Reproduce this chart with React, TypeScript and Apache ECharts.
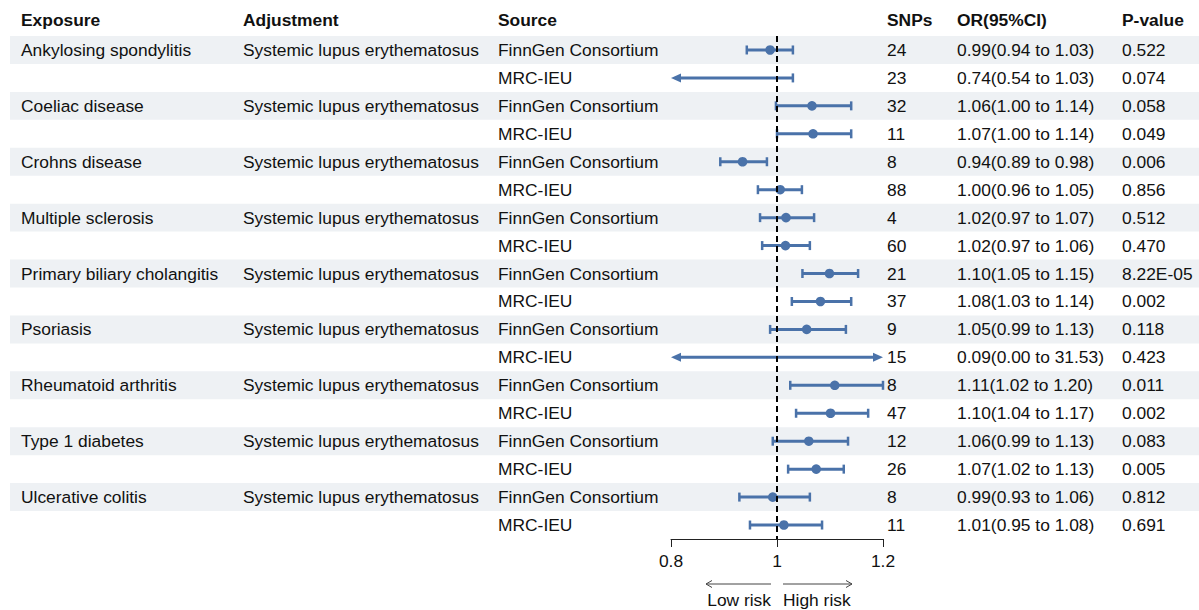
import React, { useEffect, useRef } from "react";
import * as echarts from "echarts";

const headers = ["Exposure", "Adjustment", "Source", "SNPs", "OR(95%CI)", "P-value"];
const exposures = [
  "Ankylosing spondylitis", "",
  "Coeliac disease", "",
  "Crohns disease", "",
  "Multiple sclerosis", "",
  "Primary biliary cholangitis", "",
  "Psoriasis", "",
  "Rheumatoid arthritis", "",
  "Type 1 diabetes", "",
  "Ulcerative colitis", "",
];
const adjustments = exposures.map((e) => (e ? "Systemic lupus erythematosus" : ""));
const sources = exposures.map((e) => (e ? "FinnGen Consortium" : "MRC-IEU"));
const snps = ["24", "23", "32", "11", "8", "88", "4", "60", "21", "37", "9", "15", "8", "47", "12", "26", "8", "11"];
const orTexts = [
  "0.99(0.94 to 1.03)", "0.74(0.54 to 1.03)",
  "1.06(1.00 to 1.14)", "1.07(1.00 to 1.14)",
  "0.94(0.89 to 0.98)", "1.00(0.96 to 1.05)",
  "1.02(0.97 to 1.07)", "1.02(0.97 to 1.06)",
  "1.10(1.05 to 1.15)", "1.08(1.03 to 1.14)",
  "1.05(0.99 to 1.13)", "0.09(0.00 to 31.53)",
  "1.11(1.02 to 1.20)", "1.10(1.04 to 1.17)",
  "1.06(0.99 to 1.13)", "1.07(1.02 to 1.13)",
  "0.99(0.93 to 1.06)", "1.01(0.95 to 1.08)",
];
const pTexts = [
  "0.522", "0.074", "0.058", "0.049", "0.006", "0.856", "0.512", "0.470", "8.22E-05",
  "0.002", "0.118", "0.423", "0.011", "0.002", "0.083", "0.005", "0.812", "0.691",
];
const orValues = [0.987, 0.74, 1.066, 1.068, 0.935, 1.006, 1.017, 1.016, 1.099, 1.082, 1.056, 0.09, 1.109, 1.101, 1.06, 1.074, 0.992, 1.013];
const lowerValues = [0.943, 0.54, 0.998, 1.0, 0.893, 0.964, 0.968, 0.972, 1.048, 1.028, 0.987, 0.0, 1.025, 1.036, 0.992, 1.021, 0.929, 0.949];
const upperValues = [1.03, 1.03, 1.14, 1.14, 0.981, 1.047, 1.07, 1.062, 1.153, 1.14, 1.13, 31.53, 1.2, 1.172, 1.134, 1.126, 1.062, 1.085];
const xTicks = [0.8, 1.0, 1.2];
const rowIds = exposures.map((_, i) => String(i));

const FONT = '"Liberation Sans", Arial, Helvetica, sans-serif';
const FS = 17.4;
const BLUE = "#4A72A9";
const BAND = "#EEF1F4";
const TEXT = "#111111";
const COLX = [21, 243, 498, 887, 957, 1122];

export default function App() {
  const ref = useRef<HTMLDivElement>(null);
  useEffect(() => {
    if (!ref.current) return;
    const chart = echarts.init(ref.current, null, { renderer: "svg" });
    const xMin = xTicks[0];
    const xMax = xTicks[xTicks.length - 1];

    const tableData = rowIds.map((_, i) => [xMin, i]);
    const forestData = rowIds.map((_, i) => [orValues[i], i, lowerValues[i], upperValues[i]]);

    const option: any = {
      animation: false,
      grid: { left: 671, right: 316, top: 36, bottom: 71, containLabel: false },
      xAxis: {
        type: "value",
        min: xMin,
        max: xMax,
        interval: 0.2,
        axisLine: { show: true, lineStyle: { color: "#222", width: 1 } },
        axisTick: { show: true, length: 8, lineStyle: { color: "#222", width: 1 } },
        axisLabel: {
          fontSize: FS,
          fontFamily: FONT,
          color: TEXT,
          margin: 13,
          formatter: (v: number) => (Math.abs(v - 1) < 1e-9 ? "1" : String(Math.round(v * 10) / 10)),
        },
        splitLine: { show: false },
      },
      yAxis: {
        type: "category",
        data: rowIds,
        inverse: true,
        show: false,
      },
      graphic: [
        ...headers.map((h, k) => ({
          type: "text",
          x: COLX[k],
          y: 20,
          style: { text: h, font: `bold ${FS}px ${FONT}`, fill: TEXT, verticalAlign: "middle", align: "left" },
        })),
        {
          type: "line",
          shape: { x1: 706, y1: 584, x2: 771, y2: 584 },
          style: { stroke: "#444", lineWidth: 1 },
        },
        {
          type: "polyline",
          shape: { points: [[712, 580.5], [706, 584], [712, 587.5]] },
          style: { stroke: "#444", lineWidth: 1, fill: null },
        },
        {
          type: "line",
          shape: { x1: 783, y1: 584, x2: 852, y2: 584 },
          style: { stroke: "#444", lineWidth: 1 },
        },
        {
          type: "polyline",
          shape: { points: [[846, 580.5], [852, 584], [846, 587.5]] },
          style: { stroke: "#444", lineWidth: 1, fill: null },
        },
        {
          type: "text",
          x: 771,
          y: 600,
          style: { text: "Low risk", font: `${FS}px ${FONT}`, fill: TEXT, verticalAlign: "middle", align: "right" },
        },
        {
          type: "text",
          x: 783,
          y: 600,
          style: { text: "High risk", font: `${FS}px ${FONT}`, fill: TEXT, verticalAlign: "middle", align: "left" },
        },
      ],
      series: [
        {
          type: "custom",
          name: "table",
          z: 1,
          silent: true,
          data: tableData,
          encode: { x: 0, y: 1 },
          renderItem: (params: any, api: any) => {
            const i = api.value(1) as number;
            const c = api.coord([xMin, i]);
            const h = api.size([0, 1])[1];
            const y = c[1];
            const children: any[] = [];
            if (i % 2 === 0) {
              children.push({
                type: "rect",
                shape: { x: 10, y: y - h / 2, width: 1189, height: h },
                style: { fill: BAND },
              });
            }
            const cols = [exposures[i], adjustments[i], sources[i], snps[i], orTexts[i], pTexts[i]];
            cols.forEach((t, k) => {
              if (!t) return;
              children.push({
                type: "text",
                style: { text: t, x: COLX[k], y: y, font: `${FS}px ${FONT}`, fill: TEXT, verticalAlign: "middle", align: "left" },
              });
            });
            return { type: "group", children };
          },
        },
        {
          type: "custom",
          name: "forest",
          z: 3,
          silent: true,
          data: forestData,
          encode: { x: 0, y: 1 },
          renderItem: (params: any, api: any) => {
            const est = api.value(0) as number;
            const i = api.value(1) as number;
            const lo = api.value(2) as number;
            const hi = api.value(3) as number;
            const loC = Math.max(lo, xMin);
            const hiC = Math.min(hi, xMax);
            const y = api.coord([xMin, i])[1];
            const x1 = api.coord([loC, i])[0];
            const x2 = api.coord([hiC, i])[0];
            const children: any[] = [];
            const capH = 4.5;
            const aw = 10;
            const ah = 4.5;
            const lx1 = lo < xMin ? x1 + aw - 1 : x1;
            const lx2 = hi > xMax ? x2 - aw + 1 : x2;
            children.push({ type: "line", shape: { x1: lx1, y1: y, x2: lx2, y2: y }, style: { stroke: BLUE, lineWidth: 3 } });
            if (lo < xMin) {
              children.push({ type: "polygon", shape: { points: [[x1, y], [x1 + aw, y - ah], [x1 + aw, y + ah]] }, style: { fill: BLUE } });
            } else {
              children.push({ type: "line", shape: { x1: x1, y1: y - capH, x2: x1, y2: y + capH }, style: { stroke: BLUE, lineWidth: 2.5 } });
            }
            if (hi > xMax) {
              children.push({ type: "polygon", shape: { points: [[x2, y], [x2 - aw, y - ah], [x2 - aw, y + ah]] }, style: { fill: BLUE } });
            } else {
              children.push({ type: "line", shape: { x1: x2, y1: y - capH, x2: x2, y2: y + capH }, style: { stroke: BLUE, lineWidth: 2.5 } });
            }
            if (est >= xMin && est <= xMax) {
              const cx = api.coord([est, i])[0];
              children.push({ type: "circle", shape: { cx, cy: y, r: 4.8 }, style: { fill: BLUE } });
            }
            return { type: "group", children };
          },
        },
        {
          type: "scatter",
          name: "reference",
          z: 5,
          data: [],
          silent: true,
          markLine: {
            silent: true,
            symbol: ["none", "none"],
            label: { show: false },
            lineStyle: { color: "#000", width: 2, type: [6, 4] },
            data: [{ xAxis: 1 }],
          },
        },
      ],
    };
    chart.setOption(option);
    return () => chart.dispose();
  }, []);
  return <div ref={ref} style={{ position: "absolute", left: 0, top: 0, width: 1199, height: 610 }} />;
}
